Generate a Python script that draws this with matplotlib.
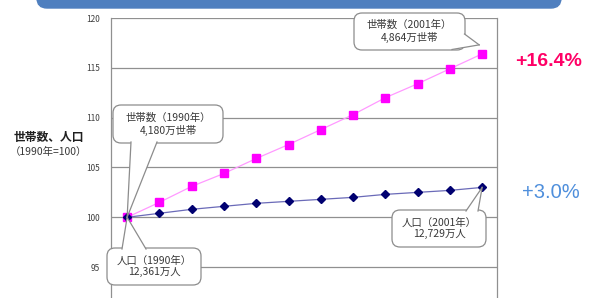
import matplotlib
matplotlib.use('Agg')
import matplotlib.pyplot as plt
from matplotlib.patches import FancyBboxPatch, Polygon
from matplotlib.transforms import IdentityTransform

plt.rcParams['font.family'] = ['Noto Sans CJK JP', 'DejaVu Sans']

# Datos (1990 = 100)
anios = list(range(1990, 2002))
hogares = [100, 101.5, 103.1, 104.4, 105.9, 107.3, 108.8, 110.3, 112.0, 113.4, 114.9, 116.4]
poblacion = [100, 100.4, 100.8, 101.1, 101.4, 101.6, 101.8, 102.0, 102.3, 102.5, 102.7, 103.0]
yticks = [95, 100, 105, 110, 115, 120]

W, H = 591, 298
fig = plt.figure(figsize=(W / 100, H / 100), dpi=100)
ax = fig.add_axes([111 / W, 0, (497 - 111) / W, (H - 18) / H])

x = list(range(len(anios)))
ax.plot(x, hogares, color='#ff99ff', lw=0.9, marker='s', ms=5.5,
        mfc='#ff00ff', mec='#ff00ff', zorder=3)
ax.plot(x, poblacion, color='#6a6ab8', lw=0.9, marker='D', ms=4,
        mfc='#000070', mec='#000070', zorder=4)

ax.set_xlim(-0.5, 11.46)
ax.set_ylim(91.9, 120)
ax.set_yticks(yticks)
ax.set_xticks([])
ax.tick_params(axis='y', length=0, pad=8, labelsize=6, labelcolor='#404040')
ax.grid(axis='y', color='#909090', lw=0.9)
for s in ['left', 'right']:
    ax.spines[s].set_color('#909090')
    ax.spines[s].set_linewidth(0.9)
ax.spines['bottom'].set_visible(False)
ax.spines['top'].set_visible(False)

# Banda superior
banda = FancyBboxPatch((37, H - 8), 524, 30, boxstyle='round,pad=0,rounding_size=10',
                       transform=IdentityTransform(), fc='#4f7fbf', ec='#4f7fbf',
                       lw=1, figure=fig)
fig.patches.append(banda)


def globo(texto, idx, valor, caja, base, desvio=(0, 0)):
    # caja: (x0, y0, x1, y1) en píxeles desde arriba; base: dos puntos de la cola
    x0, y0, x1, y1 = caja
    tip = ax.transData.transform((idx, valor))
    tip = (tip[0] + desvio[0], tip[1] + desvio[1])
    p = FancyBboxPatch((x0, H - y1), x1 - x0, y1 - y0,
                       boxstyle='round,pad=0,rounding_size=8',
                       transform=IdentityTransform(), fc='white', ec='#8c8c8c',
                       lw=0.9, zorder=5, figure=fig)
    fig.patches.append(p)
    (bx0, by0), (bx1, by1) = base
    pts = [(bx0, H - by0), tip, (bx1, H - by1)]
    cola = Polygon(pts, closed=True, transform=IdentityTransform(), fc='white',
                   ec='none', zorder=6, figure=fig)
    fig.patches.append(cola)
    for b in (pts[0], pts[2]):
        fig.lines.append(plt.Line2D([b[0], tip[0]], [b[1], tip[1]],
                                    transform=IdentityTransform(), color='#8c8c8c',
                                    lw=0.9, zorder=7, figure=fig))
    fig.text((x0 + x1) / 2 / W, 1 - (y0 + y1) / 2 / H, texto, ha='center', va='center',
             fontsize=7.5, color='#383838', linespacing=1.2, zorder=8)


globo('世帯数（1990年）\n4,180万世帯', 0, hogares[0], (113, 105, 223, 143),
      [(131, 142), (157, 142)])
globo('世帯数（2001年）\n4,864万世帯', 11, hogares[-1], (354, 13, 465, 50),
      [(464.5, 34), (452, 49.5)], desvio=(-3, 9))
globo('人口（1990年）\n12,361万人', 0, poblacion[0], (107, 248, 201, 285),
      [(122, 249), (146, 249)])
globo('人口（2001年）\n12,729万人', 11, poblacion[-1], (392, 210, 486, 247),
      [(466, 211), (478, 211)])

fig.text(49 / W, 1 - 137 / H, '世帯数、人口', ha='center', va='center',
         fontsize=8.5, color='#202020', fontweight='bold')
fig.text(48 / W, 1 - 152 / H, '（1990年=100）', ha='center', va='center',
         fontsize=7.5, color='#383838')

fig.text(549 / W, 1 - 62 / H, '+16.4%', ha='center', va='center', fontsize=14,
         fontweight='bold', color='#ff0066', family='Liberation Sans')
fig.text(551 / W, 1 - 193 / H, '+3.0%', ha='center', va='center', fontsize=14.5,
         color='#4f8fdc', family='Liberation Sans')

fig.savefig('out.png', dpi=100)
